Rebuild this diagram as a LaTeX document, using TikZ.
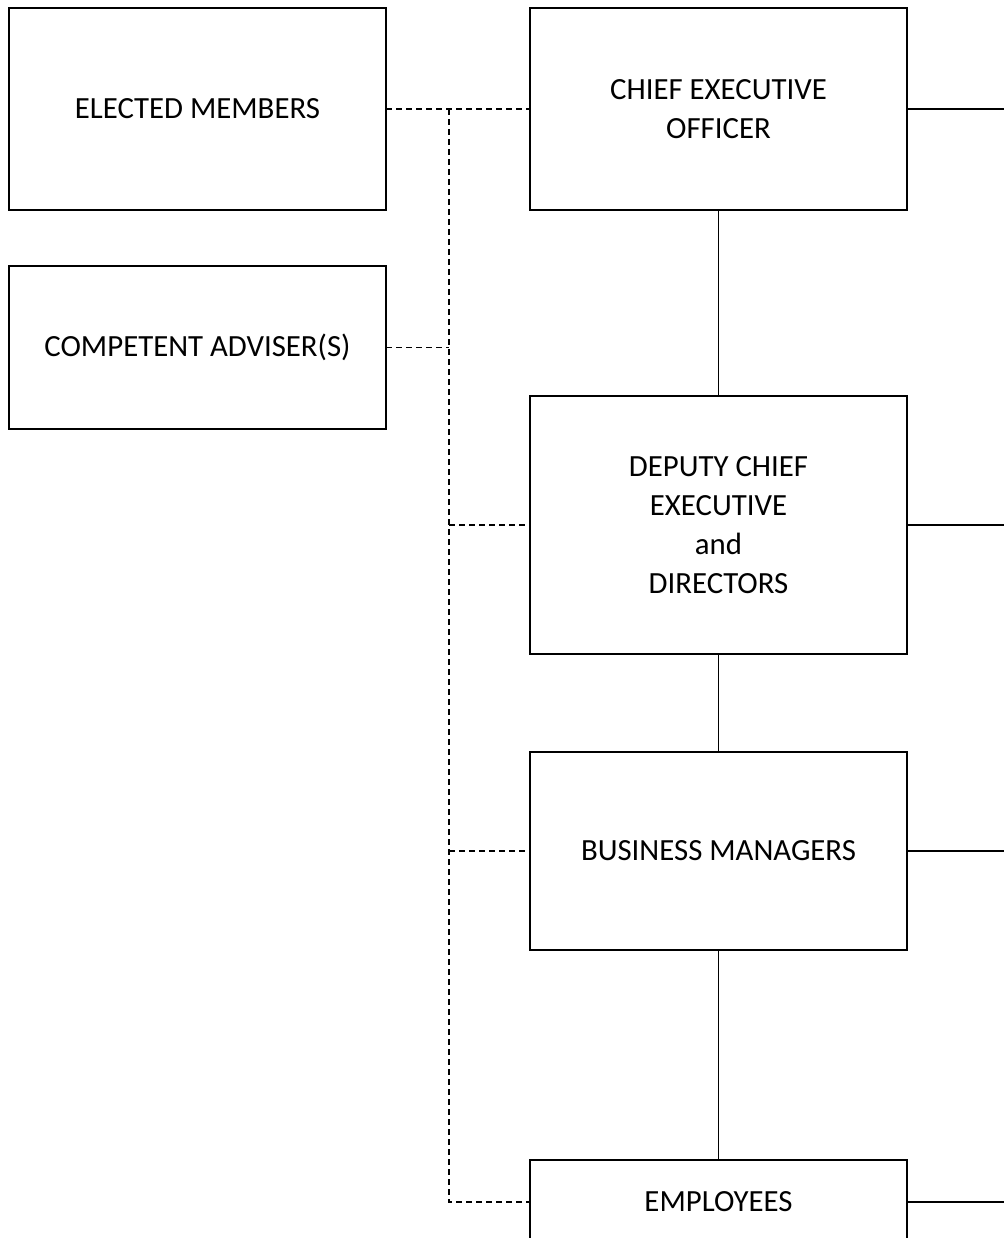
\documentclass[tikz,border=0pt]{standalone}
\usepackage{fontspec}
\setmainfont{Carlito}
\tikzset{orgbox/.style={draw,line width=1.9pt,fill=white,align=center,inner sep=0pt,outer sep=0pt,minimum width=377pt,font=\fontsize{30.8}{39}\selectfont},
 orglink/.style={draw,line width=1.9pt},
 dashlink/.style={draw,line width=1.7pt,dash pattern=on 6pt off 4pt}}

\begin{document}
\begin{tikzpicture}[x=1pt,y=-1pt]
\clip (0,0) rectangle (1004,1238);
\fill[white] (0,0) rectangle (1004,1238);
\coordinate (edge) at (1004,0);
\coordinate (trunk) at (449,0);
\node[orgbox,minimum height=202pt] (elected) at (197.5,109) {ELECTED MEMBERS};
\node[orgbox,minimum height=163pt] (adviser) at (197.5,347.5) {COMPETENT ADVISER(S)};
\node[orgbox,minimum height=202pt] (ceo) at (718.5,109) {CHIEF EXECUTIVE\\OFFICER};
\node[orgbox,minimum height=258pt] (deputy) at (718.5,525) {DEPUTY CHIEF\\EXECUTIVE\\and\\DIRECTORS};
\node[orgbox,minimum height=198pt] (bm) at (718.5,851) {BUSINESS MANAGERS};
\node[orgbox,minimum height=84pt] (emp) at (718.5,1202) {EMPLOYEES};
% line of command
\draw[orglink] (ceo) -- (deputy) (deputy) -- (bm) (bm) -- (emp);
\foreach \n in {ceo,deputy,bm,emp}
 \draw[orglink] (\n.east) -- (\n.east -| edge);
% advisory links
\draw[dashlink] (elected.east) -- (ceo.west);
\draw[dashlink] (adviser.east) -- (adviser.east -| trunk);
\draw[dashlink] (elected.east -| trunk) -- (emp.west -| trunk) -- (emp.west);
\draw[dashlink] (deputy.west -| trunk) -- (deputy.west);
\draw[dashlink] (bm.west -| trunk) -- (bm.west);
\end{tikzpicture}
\end{document}
